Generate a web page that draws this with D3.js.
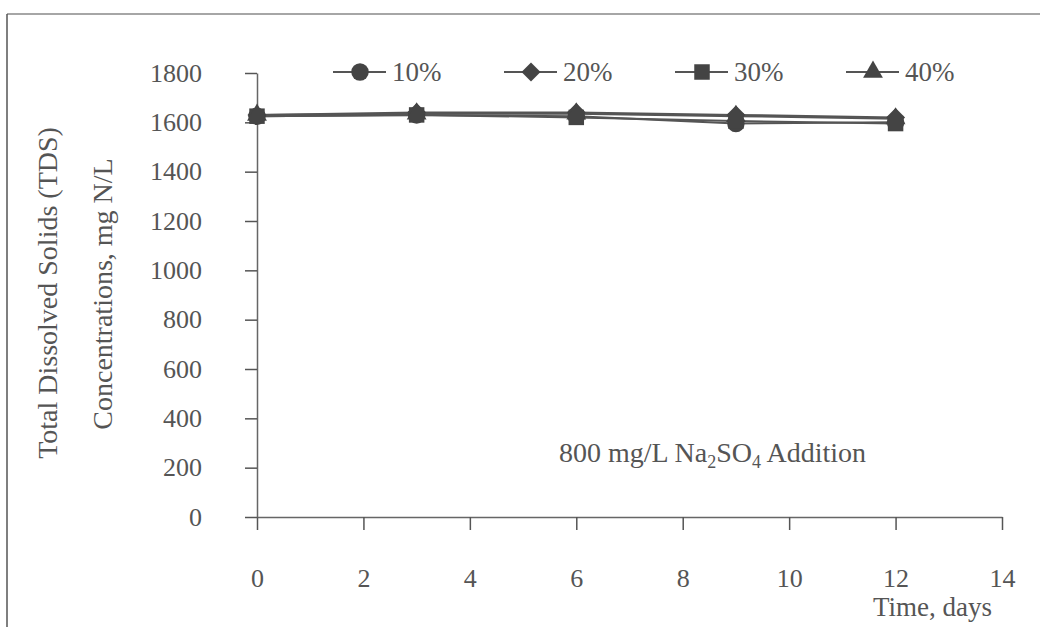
<!DOCTYPE html>
<meta charset="utf-8">
<head>
<script src="https://cdn.jsdelivr.net/npm/d3@7"></script>
<style>
  body { margin: 0; background: #fff; }
  text { font-family: "Liberation Serif", "Times New Roman", serif; fill: #555; }
</style>
</head>
<body>
<div id="chart"></div>
<script>
  // data
  const days = [0, 3, 6, 9, 12];
  const s10 = [1625, 1630, 1625, 1595, 1600];
  const s20 = [1630, 1640, 1640, 1630, 1620];
  const s30 = [1625, 1630, 1620, 1605, 1595];
  const s40 = [1630, 1635, 1635, 1625, 1615];
  const seriesNames = ["10%", "20%", "30%", "40%"];
  const xTicks = [0, 2, 4, 6, 8, 10, 12, 14];
  const yTicks = [0, 200, 400, 600, 800, 1000, 1200, 1400, 1600, 1800];

  const series = [
    {name: seriesNames[0], values: s10, shape: d3.symbolCircle, size: 240, rot: 0},
    {name: seriesNames[1], values: s20, shape: d3.symbolSquare, size: 180, rot: 45},
    {name: seriesNames[2], values: s30, shape: d3.symbolSquare, size: 240, rot: 0},
    {name: seriesNames[3], values: s40, shape: d3.symbolTriangle, size: 170, rot: 0}
  ];

  const W = 1040, H = 627;
  const svg = d3.select("#chart").append("svg")
    .attr("width", W).attr("height", H);

  // outer frame (top and left edges only visible)
  svg.append("line").attr("x1", 7).attr("x2", W).attr("y1", 14).attr("y2", 14)
    .attr("stroke", "#888").attr("stroke-width", 1.5);
  svg.append("line").attr("x1", 7).attr("x2", 7).attr("y1", 14).attr("y2", H)
    .attr("stroke", "#555").attr("stroke-width", 1.5);

  const x = d3.scaleLinear().domain([0, 14]).range([257, 1002]);
  const y = d3.scaleLinear().domain([0, 1800]).range([517, 73]);

  const gx = svg.append("g").attr("transform", `translate(0,${y(0)})`)
    .call(d3.axisBottom(x).tickValues(xTicks).tickSize(13).tickSizeOuter(0));
  const gy = svg.append("g").attr("transform", `translate(${x(0)},0)`)
    .call(d3.axisLeft(y).tickValues(yTicks).tickFormat(d3.format("d"))
      .tickSize(12).tickSizeOuter(0).tickPadding(43));

  [gx, gy].forEach(g => {
    g.selectAll("path.domain").attr("stroke", "#666").attr("stroke-width", 1.5);
    g.selectAll(".tick line").attr("stroke", "#555").attr("stroke-width", 1.5);
    g.selectAll(".tick text").style("font-size", "26px").attr("fill", "#666");
  });
  gx.selectAll(".tick text").attr("dy", 0).attr("y", 70);

  // axis titles
  svg.append("text").attr("transform", "translate(57,293) rotate(-90)")
    .attr("text-anchor", "middle").style("font-size", "28px").attr("fill", "#666")
    .text("Total Dissolved Solids (TDS)");
  svg.append("text").attr("transform", "translate(112,294) rotate(-90)")
    .attr("text-anchor", "middle").style("font-size", "28px").attr("fill", "#666")
    .text("Concentrations, mg N/L");
  svg.append("text").attr("x", 992).attr("y", 616).attr("text-anchor", "end")
    .style("font-size", "27px").attr("fill", "#666").text("Time, days");

  // annotation
  const ann = svg.append("text").attr("x", 559).attr("y", 462)
    .style("font-size", "28px").attr("fill", "#666");
  ann.append("tspan").text("800 mg/L Na");
  ann.append("tspan").attr("dy", 6).style("font-size", "18px").text("2");
  ann.append("tspan").attr("dy", -6).text("SO");
  ann.append("tspan").attr("dy", 6).style("font-size", "18px").text("4");
  ann.append("tspan").attr("dy", -6).text(" Addition");

  // lines and markers
  const line = d3.line().x((d, i) => x(days[i])).y(d => y(d));
  series.forEach(s => {
    svg.append("path").datum(s.values).attr("d", line)
      .attr("fill", "none").attr("stroke", "#555").attr("stroke-width", 2);
  });
  series.forEach(s => {
    svg.selectAll(null).data(s.values).join("path")
      .attr("transform", (d, i) => `translate(${x(days[i])},${y(d)}) rotate(${s.rot})`)
      .attr("d", d3.symbol().type(s.shape).size(s.size))
      .attr("fill", "#444");
  });

  // legend
  const legend = svg.append("g").attr("transform", "translate(333,72)");
  series.forEach((s, i) => {
    const g = legend.append("g").attr("transform", `translate(${i * 171},0)`);
    g.append("line").attr("x1", 0).attr("x2", 53).attr("y1", 0).attr("y2", 0)
      .attr("stroke", "#555").attr("stroke-width", 2);
    g.append("path").attr("transform", `translate(27,0) rotate(${s.rot})`)
      .attr("d", d3.symbol().type(s.shape).size(s.size))
      .attr("fill", "#444");
    g.append("text").attr("x", 59).attr("y", 9).style("font-size", "27px")
      .attr("fill", "#666").text(s.name);
  });
</script>
</body>
